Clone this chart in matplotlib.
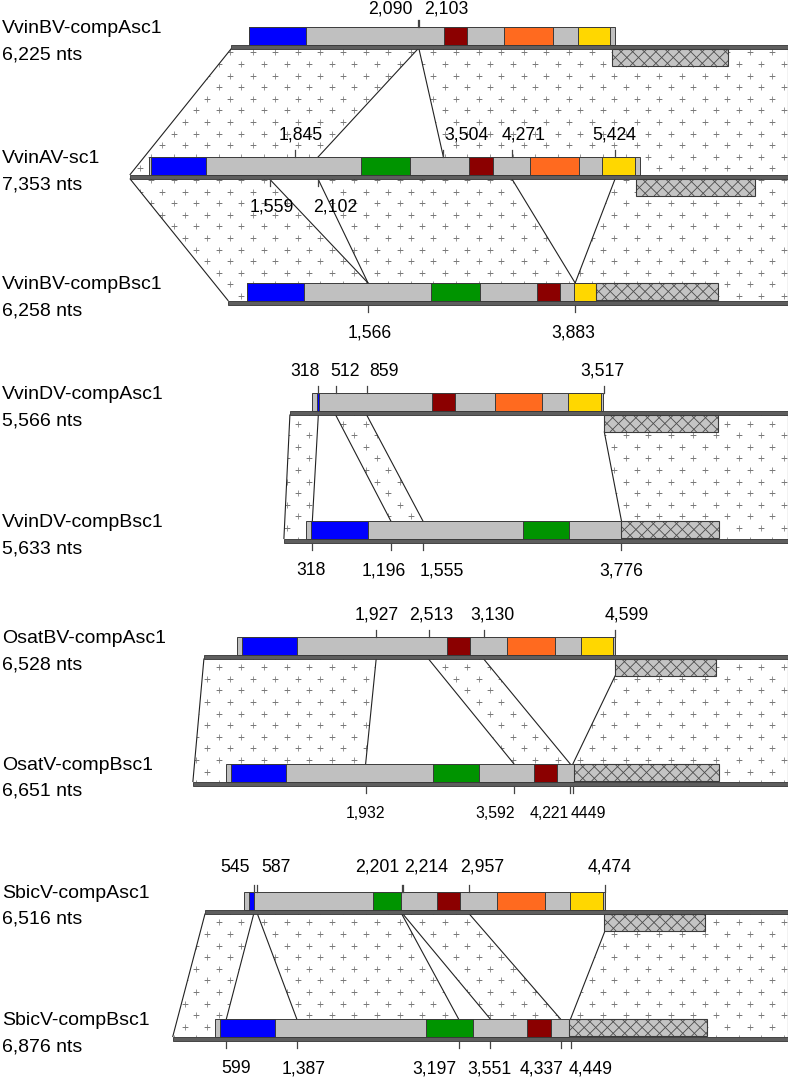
import matplotlib
matplotlib.use('Agg')
import matplotlib.pyplot as plt
from matplotlib.patches import Rectangle, Polygon
from matplotlib.collections import LineCollection
import numpy as np

plt.rcParams['font.family'] = ['Liberation Sans', 'DejaVu Sans']

# ------------------------------------------------------------------ data
names = ['VvinBV-compAsc1', 'VvinAV-sc1', 'VvinBV-compBsc1',
         'VvinDV-compAsc1', 'VvinDV-compBsc1',
         'OsatBV-compAsc1', 'OsatV-compBsc1',
         'SbicV-compAsc1', 'SbicV-compBsc1']
lengths = [6225, 7353, 6258, 5566, 5633, 6528, 6651, 6516, 6876]
length_labels = ['6,225 nts', '7,353 nts', '6,258 nts', '5,566 nts', '5,633 nts',
                 '6,528 nts', '6,651 nts', '6,516 nts', '6,876 nts']

orf_start = [207, 206, 210, 242, 242, 372, 365, 434, 474]
orf_end = [4301, 5698, 4111, 3500, 3773, 4604, 4261, 4480, 4437]

blue_dom = [(207, 841), (228, 851), (210, 845), (301, 320), (305, 939),
            (428, 1039), (428, 1036), (487, 554), (530, 1138)]
green_dom = [None, (2577, 3133), (2273, 2821), None, (2672, 3187),
             None, (2691, 3198), (1877, 2195), (2834, 3356)]
red_dom = [(2380, 2638), (3794, 4057), (3454, 3716), (1592, 1852), None,
           (2721, 2971), (3813, 4075), (2593, 2855), (3964, 4225)]
orange_dom = [(3059, 3600), (4475, 5016), None, (2289, 2818), None,
              (3393, 3922), None, (3268, 3798), None]
yellow_dom = [(3884, 4245), (5281, 5646), (3868, 4111), (3109, 3482), None,
              (4213, 4574), None, (4085, 4450), None]
hatched_reg = [(4264, 5565), (5661, 6984), (4111, 5479), (3511, 4786), (3773, 4865),
               (4604, 5723), (4261, 5883), (4469, 5595), (4437, 5981)]
hatched_below = [True, True, False, True, False, True, False, True, False]

# alignments: (upper row, lower row, [(upper_start, upper_end, lower_start, lower_end), ...])
alignments = [
    (0, 1, [(0, 2090, 0, 2102), (2103, 6225, 3504, 7353)]),
    (1, 2, [(0, 1559, 0, 1566), (2102, 4271, 1566, 3883), (5424, 7353, 3883, 6258)]),
    (3, 4, [(0, 318, 0, 318), (512, 859, 1196, 1555), (3517, 5566, 3776, 5633)]),
    (5, 6, [(0, 1927, 0, 1932), (2513, 3130, 3592, 4221), (4599, 6528, 4250, 6651)]),
    (7, 8, [(0, 545, 0, 599), (587, 2201, 1387, 3197), (2214, 2957, 3551, 4337),
            (4474, 6516, 4449, 6876)]),
]

top_tick_pos = {0: [2090, 2103], 1: [1845, 3504, 4271, 5424],
                3: [318, 512, 859, 3517], 5: [1927, 2513, 3130, 4599],
                7: [545, 587, 2201, 2214, 2957, 4474]}
top_tick_lab = {0: ['2,090', '2,103'], 1: ['1,845', '3,504', '4,271', '5,424'],
                3: ['318', '512', '859', '3,517'], 5: ['1,927', '2,513', '3,130', '4,599'],
                7: ['545', '587', '2,201', '2,214', '2,957', '4,474']}
bot_tick_pos = {1: [1559, 2102], 2: [1566, 3883], 4: [318, 1196, 1555, 3776],
                6: [1932, 3592, 4221, 4250], 8: [599, 1387, 3197, 3551, 4337, 4449]}
bot_tick_lab = {1: ['1,559', '2,102'], 2: ['1,566', '3,883'],
                4: ['318', '1,196', '1,555', '3,776'],
                6: ['1,932', '3,592', '4,221', '4449'],
                8: ['599', '1,387', '3,197', '3,551', '4,337', '4,449']}

# ------------------------------------------------------------------ layout (pixels)
W, H = 788, 1077
S = 0.0894                      # pixels per nucleotide
box_top = [27, 157, 283, 393, 521, 637, 764, 892, 1019]
BOX_H = 17.5
LINE_H = 4.5
HATCH_H = 17
RIGHT_PX = 787.5
top_lab_gap = [13, 17, 18, 17, 18, 18, 18, 20, 18]
top_nudge = {0: [-27, 27.5], 1: [6, 23, 12, -1], 3: [-13, 9, 17, -2],
             5: [1, 3, 9, 12], 7: [-19, 18.5, -24, 23.6, 13, 5]}
bot_nudge = {1: [2, 17.5], 2: [1.5, -1.6], 4: [-1, -7, 19, 0],
             6: [0, -19, -21, 16], 8: [10, 7, -24, -1, -18.5, 20]}
bot_font = {6: 11.3}
FS_NAME = 14
FS_TICK = 12.7

COL = dict(gray='#c0c0c0', blue='#0000ff', green='#009400', red='#8b0000',
           orange='#ff6a1f', yellow='#ffd700', hatch='#c4c4c4', edge='#3a3a3a',
           line='#5e5e5e', plus='#7a7a7a')

fig = plt.figure(figsize=(W / 100, H / 100), dpi=100)
ax = fig.add_axes([0, 0, 1, 1])
ax.set_xlim(0, W / S)
ax.set_ylim(H, 0)
ax.axis('off')

offset = [RIGHT_PX / S - L for L in lengths]
line_top = [b + BOX_H for b in box_top]
line_bot = [b + BOX_H + LINE_H for b in box_top]


def gx(row, pos):
    return offset[row] + pos


# lattice of '+' signs used as fill pattern (pixel space)
px_x, px_y = [], []
for j in range(int(H / 11.6) + 2):
    for i in range(int(W / 22.6) + 2):
        px_x.append(i * 22.6 + (j % 2) * 11.3 + 4)
        px_y.append(j * 11.6 + 6)
px_x = np.array(px_x)
px_y = np.array(px_y)

TOL = 15


def upper_y(row, pos):
    h0, h1 = hatched_reg[row]
    if hatched_below[row] and h0 - TOL <= pos <= h1 + TOL:
        return line_bot[row] + HATCH_H
    return line_bot[row]


def lower_y(row, pos):
    inside = orf_start[row] - TOL <= pos <= orf_end[row] + TOL
    h0, h1 = hatched_reg[row]
    if not hatched_below[row] and h0 - TOL <= pos <= h1 + TOL:
        inside = True
    return box_top[row] if inside else line_top[row]


for up, lo, blocks in alignments:
    for us, ue, ls, le in blocks:
        xtl, xtr = gx(up, us), gx(up, ue)
        xbl, xbr = gx(lo, ls), gx(lo, le)
        ytl, ytr = upper_y(up, us), upper_y(up, ue)
        ybl, ybr = lower_y(lo, ls), lower_y(lo, le)
        verts = [(xtl, line_bot[up]), (xtr, line_bot[up]), (xtr, ytr), (xbr, ybr),
                 (xbr, line_top[lo]), (xbl, line_top[lo]), (xbl, ybl), (xtl, ytl)]
        poly = Polygon(verts, closed=True, facecolor='white', edgecolor='none', zorder=1)
        ax.add_patch(poly)
        xmin_px = min(xtl, xbl) * S - 6
        xmax_px = max(xtr, xbr) * S + 6
        sel = (px_x >= xmin_px) & (px_x <= xmax_px) & \
              (px_y >= line_bot[up] - 6) & (px_y <= line_top[lo] + 6)
        pl, = ax.plot(px_x[sel] / S, px_y[sel], linestyle='none', marker='+',
                      markersize=3.8, markeredgewidth=0.55, color=COL['plus'], zorder=1.5)
        pl.set_clip_path(poly)
        ax.plot([xtl, xbl], [ytl, ybl], color='#222222', lw=0.8, zorder=2)
        ax.plot([xtr, xbr], [ytr, ybr], color='#222222', lw=0.8, zorder=2)


def crosshatch(x0, x1, y0, y1, patch):
    d = 11.6
    w = (x1 - x0) * S
    h = y1 - y0
    segs = []
    c = -h
    while c <= w + d:
        a = x0 * S + c
        segs.append([((a) / S, y0), ((a + h) / S, y1)])
        segs.append([((a) / S, y1), ((a + h) / S, y0)])
        c += d
    lc = LineCollection(segs, colors='#4a4a4a', linewidths=0.6, zorder=5.5)
    ax.add_collection(lc)
    lc.set_clip_path(patch)


for r in range(len(names)):
    # genome line
    ax.add_patch(Rectangle((gx(r, 0), line_top[r]), lengths[r], LINE_H,
                           facecolor=COL['line'], edgecolor='#333333', lw=0.6, zorder=3))
    # ORF box
    ax.add_patch(Rectangle((gx(r, orf_start[r]), box_top[r]), orf_end[r] - orf_start[r], BOX_H,
                           facecolor=COL['gray'], edgecolor=COL['edge'], lw=0.7, zorder=4))
    for doms, key in [(blue_dom, 'blue'), (green_dom, 'green'), (red_dom, 'red'),
                      (orange_dom, 'orange'), (yellow_dom, 'yellow')]:
        d = doms[r]
        if d is None:
            continue
        ax.add_patch(Rectangle((gx(r, d[0]), box_top[r]), d[1] - d[0], BOX_H,
                               facecolor=COL[key], edgecolor=COL['edge'], lw=0.7, zorder=5))
    # hatched region
    h0, h1 = hatched_reg[r]
    hy = line_bot[r] if hatched_below[r] else box_top[r]
    rect = Rectangle((gx(r, h0), hy), h1 - h0, HATCH_H,
                     facecolor=COL['hatch'], edgecolor='none', zorder=5)
    ax.add_patch(rect)
    crosshatch(gx(r, h0), gx(r, h1), hy, hy + HATCH_H, rect)
    ax.add_patch(Rectangle((gx(r, h0), hy), h1 - h0, HATCH_H,
                           facecolor='none', edgecolor=COL['edge'], lw=0.8, zorder=5.6))
    # names
    ax.text(2 / S, box_top[r] + 6, names[r], fontsize=FS_NAME, ha='left', va='baseline', zorder=7)
    ax.text(2 / S, box_top[r] + 32, length_labels[r], fontsize=FS_NAME, ha='left',
            va='baseline', zorder=7)

for r, poss in top_tick_pos.items():
    for p, lab, nd in zip(poss, top_tick_lab[r], top_nudge[r]):
        x = gx(r, p)
        ax.plot([x, x], [box_top[r] - 7.5, box_top[r]], color='#444444', lw=0.9, zorder=6)
        ax.text(x + nd / S, box_top[r] - top_lab_gap[r], lab, fontsize=FS_TICK,
                ha='center', va='baseline', zorder=7)

for r, poss in bot_tick_pos.items():
    fs = bot_font.get(r, FS_TICK)
    for p, lab, nd in zip(poss, bot_tick_lab[r], bot_nudge[r]):
        x = gx(r, p)
        ax.plot([x, x], [line_bot[r], line_bot[r] + 7], color='#444444', lw=0.9, zorder=6)
        ax.text(x + nd / S, line_bot[r] + 32, lab, fontsize=fs,
                ha='center', va='baseline', zorder=7)

fig.savefig('out.png', dpi=100)
